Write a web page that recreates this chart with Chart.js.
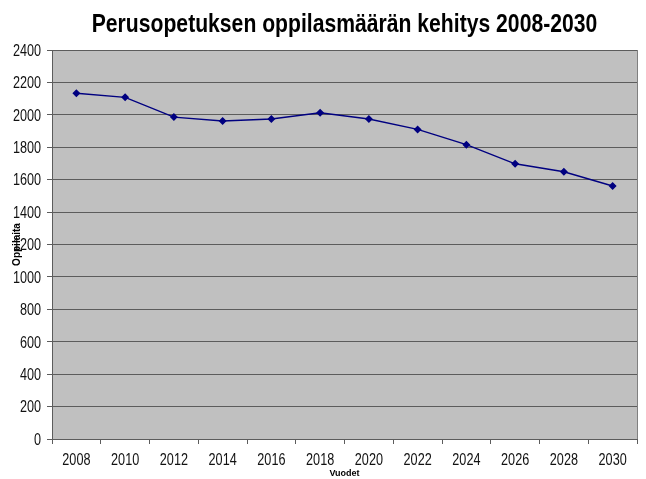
<!DOCTYPE html>
<html>
<head>
<meta charset="utf-8">
<script src="https://cdn.jsdelivr.net/npm/chart.js@4/dist/chart.umd.min.js"></script>
<style>
    body { margin: 0; background: #ffffff; }
    #wrap { width: 646px; height: 479px; }
</style>
</head>
<body>
<div id="wrap"><canvas id="pupilChart"></canvas></div>
<script>
const years = ['2008', '2010', '2012', '2014', '2016', '2018', '2020', '2022', '2024', '2026', '2028', '2030'];
const pupils = [2133, 2108, 1986, 1962, 1974, 2013, 1974, 1910, 1816, 1698, 1649, 1561];
const yTicks = [0, 200, 400, 600, 800, 1000, 1200, 1400, 1600, 1800, 2000, 2200, 2400];
const titleText = 'Perusopetuksen oppilasmäärän kehitys 2008-2030';

const sans = "'Liberation Sans', Arial, sans-serif";
const gridColor = '#5c5c5c';

// draws text squeezed horizontally to get a narrow face
function narrowText(ctx, text, x, y, font, align, squeeze) {
    ctx.save();
    ctx.translate(x, y);
    ctx.scale(squeeze, 1);
    ctx.font = font;
    ctx.textAlign = align;
    ctx.textBaseline = 'alphabetic';
    ctx.fillText(text, 0, 0);
    ctx.restore();
}

// grey plot area, frame line, condensed labels and the rotated y title
const plotArea = {
    id: 'plotArea',
    beforeDraw(chart) {
        const { ctx, chartArea: a } = chart;
        ctx.save();
        ctx.fillStyle = '#c0c0c0';
        ctx.fillRect(a.left, a.top, a.right - a.left, a.bottom - a.top);
        ctx.restore();
    },
    afterDraw(chart) {
        const { ctx, chartArea: a, scales } = chart;
        ctx.save();
        ctx.strokeStyle = '#808080';
        ctx.lineWidth = 1;
        ctx.beginPath();
        ctx.moveTo(a.right + 0.5, a.top);
        ctx.lineTo(a.right + 0.5, a.bottom);
        ctx.stroke();
        ctx.restore();

        ctx.save();
        ctx.fillStyle = '#000000';
        narrowText(ctx, titleText, (a.left + a.right) / 2, 31.5, 'bold 25px ' + sans, 'center', 0.846);

        ctx.fillStyle = '#111111';
        const tickFont = '16px ' + sans;
        yTicks.forEach(v => {
            narrowText(ctx, String(v), a.left - 11, scales.y.getPixelForValue(v) + 5.8, tickFont, 'right', 0.79);
        });
        years.forEach((label, i) => {
            narrowText(ctx, label, scales.x.getPixelForTick(i), a.bottom + 26, tickFont, 'center', 0.79);
        });

        ctx.translate(17, (a.top + a.bottom) / 2);
        ctx.rotate(-Math.PI / 2);
        ctx.fillStyle = '#000000';
        ctx.font = 'bold 10px ' + sans;
        ctx.textAlign = 'center';
        ctx.textBaseline = 'middle';
        ctx.fillText('Oppilaita', 0, 0);
        ctx.restore();
    }
};

const ctx = document.getElementById('pupilChart').getContext('2d');
const pupilChart = new Chart(ctx, {
    type: 'line',
    data: {
        labels: years,
        datasets: [{
            label: 'Oppilaita',
            data: pupils,
            borderColor: '#000080',
            backgroundColor: '#000080',
            borderWidth: 1.4,
            pointStyle: 'rectRot',
            pointRadius: 3,
            pointHoverRadius: 3,
            tension: 0
        }]
    },
    options: {
        responsive: true,
        maintainAspectRatio: false,
        animation: false,
        layout: {
            padding: { left: 0, right: 9, top: 50, bottom: 0 }
        },
        plugins: {
            legend: { display: false },
            tooltip: { enabled: false },
            title: { display: false }
        },
        scales: {
            x: {
                offset: true,
                afterFit: s => { s.height = 40; },
                grid: {
                    offset: true,
                    drawOnChartArea: false,
                    color: gridColor,
                    tickLength: 5
                },
                border: { color: gridColor },
                ticks: { display: false },
                title: {
                    display: true,
                    text: 'Vuodet',
                    color: '#000000',
                    font: { family: sans, size: 9, weight: 'bold' },
                    padding: 0
                }
            },
            y: {
                min: 0,
                max: 2400,
                afterFit: s => { s.width = 52; },
                afterBuildTicks: s => { s.ticks = yTicks.map(v => ({ value: v })); },
                grid: {
                    color: gridColor,
                    tickLength: 5
                },
                border: { color: gridColor },
                ticks: { display: false }
            }
        }
    },
    plugins: [plotArea]
});
</script>
</body>
</html>
